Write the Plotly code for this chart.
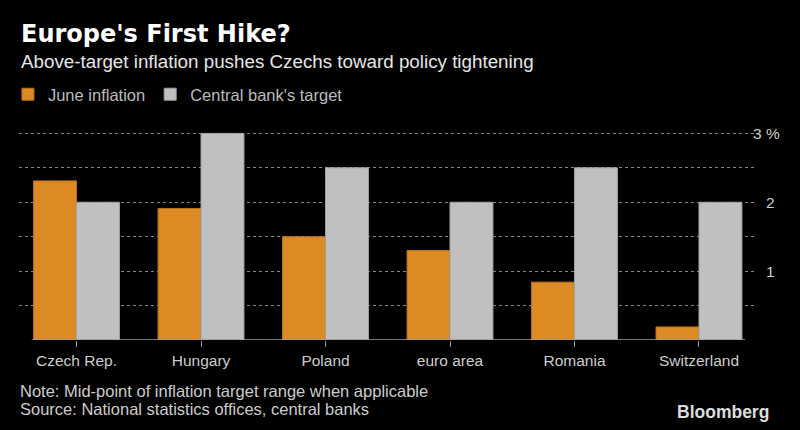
import plotly.graph_objects as go

categories = ["Czech Rep.", "Hungary", "Poland", "euro area", "Romania", "Switzerland"]
june_inflation = [2.31, 1.91, 1.50, 1.30, 0.84, 0.19]
bank_target = [2.0, 3.0, 2.5, 2.0, 2.5, 2.0]
y_tickvals = [0.5, 1, 1.5, 2, 2.5, 3]
y_ticktext = ["", "\u2007\u00a01", "", "\u2007\u00a02", "", "3 %"]

BODY = "'Liberation Sans', Arial, sans-serif"
BOLD = "'DejaVu Sans', sans-serif"

L, R, T, B = 19, 756, 132, 340
W, H = 800, 430

def px_x(p):
    return (p - L) / (R - L)

def px_y(p):
    return 1 + (T - p) / (B - T)

fig = go.Figure()
fig.add_trace(go.Bar(
    x=categories, y=june_inflation, name="June inflation",
    marker=dict(color="#DB8A24", line=dict(color="#B8731C", width=1)),
))
fig.add_trace(go.Bar(
    x=categories, y=bank_target, name="Central bank's target",
    marker=dict(color="#C0C0C0", line=dict(color="#A0A0A0", width=1)),
))

fig.update_layout(
    width=W, height=H,
    paper_bgcolor="#000000", plot_bgcolor="#000000",
    margin=dict(l=L, r=W - R, t=T, b=H - B, pad=0, autoexpand=False),
    barmode="group", bargap=0.31, bargroupgap=0,
    showlegend=True,
    legend=dict(
        orientation="h", x=-0.015, xanchor="left", y=px_y(94.5), yanchor="middle",
        font=dict(family=BODY, size=16.5, color="#BBBBBB"),
        bgcolor="rgba(0,0,0,0)", itemclick=False, traceorder="normal",
    ),
    font=dict(family=BODY, color="#CCCCCC"),
)

fig.update_xaxes(
    range=[-0.462, 5.458], showgrid=False, showline=False, zeroline=False,
    ticks="outside", ticklen=6, tickcolor="#999999", tickwidth=1, automargin=False,
    tickfont=dict(family=BODY, size=15.5, color="#CCCCCC"),
)
fig.update_yaxes(
    range=[0, 3.02], side="right", tickvals=y_tickvals, ticktext=y_ticktext,
    showgrid=True, gridcolor="#888888", griddash="dot", gridwidth=1,
    zeroline=False, showline=False, ticks="", automargin=False,
    ticklabelstandoff=-4,
    tickfont=dict(family=BODY, size=15.5, color="#CCCCCC"),
)

# baseline under the bars
fig.add_shape(type="line", xref="x", yref="y", x0=-0.36, x1=5.37, y0=0, y1=0,
              line=dict(color="#A0A0A0", width=1.5), layer="above")
# cut top gridline short before the "3 %" label
fig.add_shape(type="rect", xref="paper", yref="y", x0=px_x(741), x1=1.0, y0=2.95, y1=3.02,
              fillcolor="#000000", line=dict(width=0), layer="between")

fig.add_annotation(text="<b>Europe's First Hike?</b>", xref="paper", yref="paper",
                   x=px_x(19), y=px_y(34), xanchor="left", yanchor="middle", showarrow=False,
                   font=dict(family=BOLD, size=24, color="#FFFFFF"))
fig.add_annotation(text="Above-target inflation pushes Czechs toward policy tightening",
                   xref="paper", yref="paper", x=px_x(19), y=px_y(62), xanchor="left",
                   yanchor="middle", showarrow=False,
                   font=dict(family=BODY, size=18.8, color="#E6E6E6"))
fig.add_annotation(text="Note: Mid-point of inflation target range when applicable",
                   xref="paper", yref="paper", x=px_x(18), y=px_y(391), xanchor="left",
                   yanchor="middle", showarrow=False,
                   font=dict(family=BODY, size=16.5, color="#CCCCCC"))
fig.add_annotation(text="Source: National statistics offices, central banks",
                   xref="paper", yref="paper", x=px_x(18), y=px_y(409), xanchor="left",
                   yanchor="middle", showarrow=False,
                   font=dict(family=BODY, size=16.5, color="#CCCCCC"))
fig.add_annotation(text="<b>Bloomberg</b>", xref="paper", yref="paper",
                   x=px_x(771), y=px_y(412), xanchor="right", yanchor="middle", showarrow=False,
                   font=dict(family=BODY, size=17.5, color="#DDDDDD"))

fig.write_html("out.html")
